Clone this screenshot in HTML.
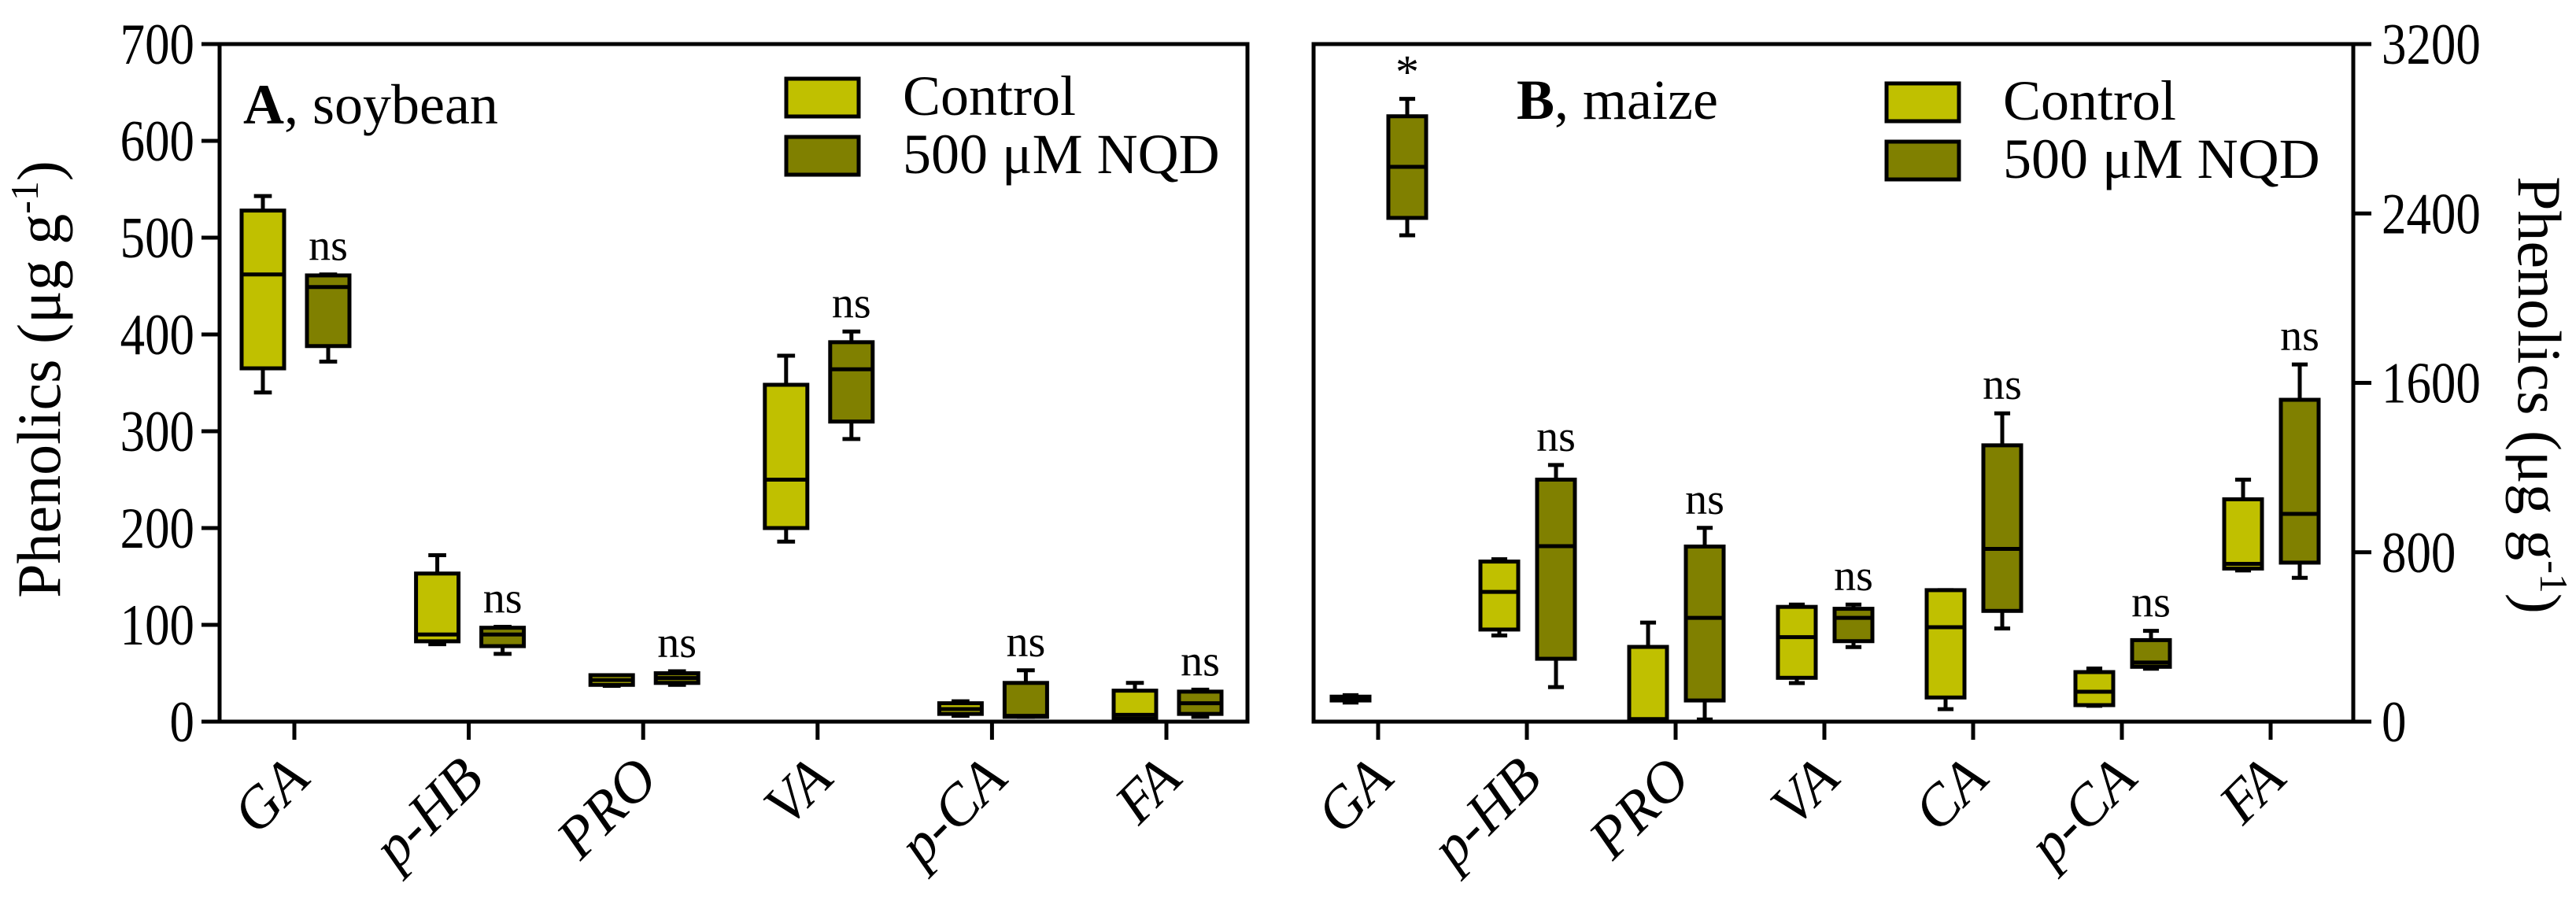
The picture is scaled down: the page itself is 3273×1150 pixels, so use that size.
<!DOCTYPE html>
<html><head><meta charset="utf-8">
<style>
html,body{margin:0;padding:0;background:#fff;}
svg, svg text{font-family:"Liberation Serif","DejaVu Serif",serif;}
</style></head>
<body>
<svg id="chart" width="3273" height="1145" viewBox="0 0 3273 1145" xmlns="http://www.w3.org/2000/svg" font-family="Liberation Serif, serif">
<g id="panelA"></g>
<g id="panelB"></g>
</svg>
<script>
// ---- data ----
const catsA = ["GA","p-HB","PRO","VA","p-CA","FA"];
const ctrlA = [[340,365,462,528,543],[80,83,90,153,172],[37,38,43,48,48],[186,200,250,348,378],[6,8,13,19,21],[1,3,7,32,40]];
const nqdA  = [[372,388,449,461,462],[70,78,90,97,98],[38,40,45,50,52],[292,310,364,392,403],[5,5,6,40,53],[5,8,19,31,33]];
const sigA  = ["ns","ns","ns","ns","ns","ns"];
const ticksA = [0,100,200,300,400,500,600,700];

const catsB = ["GA","p-HB","PRO","VA","CA","p-CA","FA"];
const ctrlB = [[90,100,108,118,125],[407,435,613,756,767],[5,9,12,353,468],[182,207,399,542,553],[59,114,446,621,621],[75,78,141,234,251],[714,723,745,1050,1143]];
const nqdB  = [[2297,2379,2620,2859,2941],[163,297,829,1143,1212],[10,100,490,827,915],[352,380,490,533,553],[440,523,816,1305,1456],[250,259,279,385,429],[679,751,981,1520,1687]];
const sigB  = ["*","ns","ns","ns","ns","ns","ns"];
const ticksB = [0,800,1600,2400,3200];

const NS="http://www.w3.org/2000/svg";
const C1="#c0c000", C2="#808000";
const FF="Liberation Serif, DejaVu Serif, serif";
function mk(parent,tag,attrs,text){
  const e=document.createElementNS(NS,tag);
  for(const k in attrs) e.setAttribute(k,attrs[k]);
  if(tag==='text') e.setAttribute('font-family',FF);
  if(text!==undefined) e.textContent=text;
  parent.appendChild(e); return e;
}
function drawPanel(g, o){
  const y=v=>o.y0-(v-0)/o.max*(o.y0-o.y1);
  const x=i=>o.tick0+i*o.step;
  const fr=mk(g,'rect',{x:o.L,y:o.y1,width:o.R-o.L,height:o.y0-o.y1,fill:'none',stroke:'#000','stroke-width':5});
  
  
  o.ticks.forEach(t=>{
    const ax=o.rightAxis?o.R:o.L;
    const d=o.rightAxis?1:-1;
    const tl=mk(g,'line',{x1:ax,x2:ax+d*23,y1:y(t),y2:y(t),stroke:'#000','stroke-width':5});
    
    
    const tx=mk(g,'text',{x:0,y:0,'font-size':74,'text-anchor':o.rightAxis?'start':'end',
      transform:`translate(${o.rightAxis?ax+36:ax-32},${y(t)+25}) scale(0.85,1)`},String(t));
    
    
  });
  o.cats.forEach((c,i)=>{
    const tx=x(i);
    const tk=mk(g,'line',{x1:tx,x2:tx,y1:o.y0,y2:o.y0+23,stroke:'#000','stroke-width':5});
    
    
    const lab=mk(g,'text',{x:0,y:0,'font-size':74,'font-style':'italic','text-anchor':'end',transform:`translate(${tx+22},${o.y0+76}) rotate(-45)`},c);
    
    
    [[o.ctrl[i],C1,o.off1,'control'],[o.nqd[i],C2,o.off2,'nqd']].forEach(([v,col,off,nm])=>{
      const cx=tx+off, w=o.bw;
      const bg=mk(g,'g',{});
      
      
      const wl=w*0.42;
      mk(bg,'line',{x1:cx,x2:cx,y1:y(v[4]),y2:y(v[3]),stroke:'#000','stroke-width':5});
      mk(bg,'line',{x1:cx,x2:cx,y1:y(v[1]),y2:y(v[0]),stroke:'#000','stroke-width':5});
      mk(bg,'line',{x1:cx-wl/2,x2:cx+wl/2,y1:y(v[4]),y2:y(v[4]),stroke:'#000','stroke-width':5});
      mk(bg,'line',{x1:cx-wl/2,x2:cx+wl/2,y1:y(v[0]),y2:y(v[0]),stroke:'#000','stroke-width':5});
      mk(bg,'rect',{x:cx-w/2,y:y(v[3]),width:w,height:Math.max(1,y(v[1])-y(v[3])),fill:col,stroke:'#000','stroke-width':5});
      mk(bg,'line',{x1:cx-w/2,x2:cx+w/2,y1:y(v[2]),y2:y(v[2]),stroke:'#000','stroke-width':5});
    });
    const s=o.sig[i];
    const st=mk(g,'text',{x:tx+o.off2,y:y(o.nqd[i][4])-(s==='*'?14:18),'font-size':s==='*'?60:56,'text-anchor':'middle'},s);
    
    
  });
  const pt=mk(g,'text',{x:o.titleX,y:o.titleY,'font-size':72});
  
  
  mk(pt,'tspan',{'font-weight':'bold'},o.letter);
  mk(pt,'tspan',{},', '+o.crop);
  [[C1,'Control',0],[C2,'500 μM NQD',1]].forEach(([col,t,k])=>{
    const lg=mk(g,'g',{});
    
    
    const yy=o.legY+k*74;
    mk(lg,'rect',{x:o.legX,y:yy,width:92,height:48,fill:col,stroke:'#000','stroke-width':5});
    mk(lg,'text',{x:o.legX+148,y:yy+46,'font-size':72},t);
  });
  const at=mk(g,'text',{x:0,y:0,'font-size':78,'text-anchor':'middle',transform:`translate(${o.axX},${o.axY}) rotate(${o.axRot})`});
  
  
  at.appendChild(document.createTextNode('Phenolics (μg g'));
  mk(at,'tspan',{'baseline-shift':'super','font-size':50},'-1');
  at.appendChild(document.createTextNode(')'));
}
drawPanel(document.getElementById('panelA'),{
  L:279,R:1585,y0:917,y1:56,max:700,ticks:ticksA,cats:catsA,tick0:374,step:221.6,
  ctrl:ctrlA,nqd:nqdA,sig:sigA,off1:-40,off2:43,bw:54,rightAxis:false,
  titleX:309,titleY:157,letter:'A',crop:'soybean',legX:999,legY:100,
  axX:76,axY:482,axRot:-90
});
drawPanel(document.getElementById('panelB'),{
  L:1669,R:2990,y0:917,y1:56,max:3200,ticks:ticksB,cats:catsB,tick0:1751,step:189,
  ctrl:ctrlB,nqd:nqdB,sig:sigB,off1:-35,off2:37,bw:48,rightAxis:true,
  titleX:1927,titleY:151,letter:'B',crop:'maize',legX:2397,legY:106,
  axX:3200,axY:502,axRot:90
});
</script>
</body></html>
